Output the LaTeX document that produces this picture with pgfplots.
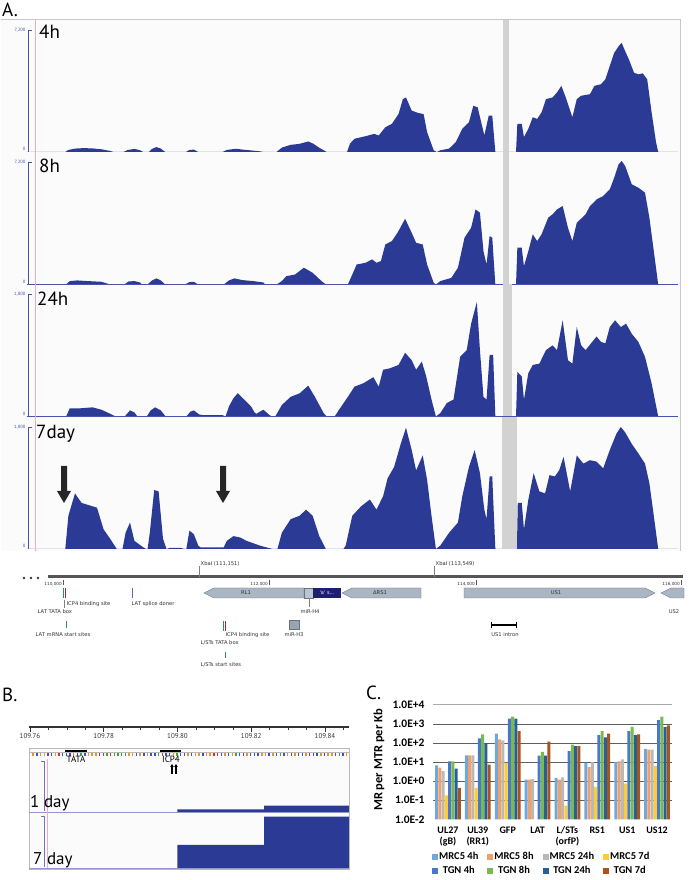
\documentclass[border=0pt]{standalone}
\usepackage{pgfplots}
\pgfplotsset{compat=1.18}
\usepackage{fontspec}
\setmainfont{PT Sans}
\newfontfamily\calib{Carlito}
\newfontfamily\dvs{DejaVu Sans}
\usetikzlibrary{arrows.meta}

\definecolor{cov}{RGB}{43,58,148}
\definecolor{trk}{RGB}{72,84,170}
\definecolor{graybar}{RGB}{210,210,210}
\definecolor{frm}{RGB}{200,200,200}
\definecolor{bgA}{RGB}{251,251,251}
\definecolor{pinkl}{RGB}{240,170,185}
\definecolor{genefill}{RGB}{170,182,196}
\definecolor{geneline}{RGB}{105,115,130}
\definecolor{navybox}{RGB}{28,32,110}
\definecolor{annot}{RGB}{50,50,50}
\definecolor{rul}{RGB}{85,85,85}
\definecolor{mkgreen}{RGB}{40,150,70}
\definecolor{mkred}{RGB}{170,40,40}
\definecolor{mkblue}{RGB}{90,110,200}
\definecolor{cMa}{RGB}{112,168,222}
\definecolor{cMb}{RGB}{244,160,100}
\definecolor{cMc}{RGB}{185,185,185}
\definecolor{cMd}{RGB}{255,205,50}
\definecolor{cTa}{RGB}{72,120,200}
\definecolor{cTb}{RGB}{120,185,80}
\definecolor{cTc}{RGB}{38,96,148}
\definecolor{cTd}{RGB}{168,84,30}
\definecolor{bA}{RGB}{60,165,60}
\definecolor{bC}{RGB}{60,80,215}
\definecolor{bG}{RGB}{230,150,40}
\definecolor{bT}{RGB}{215,50,50}
\definecolor{gridd}{RGB}{95,95,95}
\definecolor{gridl}{RGB}{170,170,170}

\pgfplotsset{
  track/.style={scale only axis, width=651pt, height=132pt, anchor=south west,
    xmin=61, xmax=1540, ymin=0, axis lines=none},
  sqleg/.style={legend image code/.code={\draw[##1,/tikz/.cd,draw=none] (0pt,-3pt) rectangle (6pt,3pt);}},
}

\begin{document}
\begin{tikzpicture}[x=1pt,y=1pt]
\useasboundingbox (0,0) rectangle (691,880);
\fill[white] (0,0) rectangle (691,880);
% backgrounds
\begin{scope}[shift={(0pt,880pt)}, y=-1pt]
\fill[bgA] (1,20) rectangle (680,551);
\draw[frm, line width=1pt] (1,20) -- (680,20) -- (680,551);
\fill[bgA] (29,748) rectangle (349,869);
\end{scope}

% ---------------- Panel A tracks ----------------
\begin{axis}[track, at={(27pt,728pt)}, ymax=7790]
\addplot[fill=cov, draw=none] coordinates {(61,0) (148,0) (155,120) (170,200) (190,230) (210,210) (230,160) (250,60) (258,0) (280,0) (290,120) (305,180) (318,100) (325,0) (338,0) (345,180) (355,290) (365,200) (375,0) (422,0) (430,120) (440,140) (450,0) (505,0) (515,120) (535,190) (555,130) (575,80) (590,40) (600,0) (628,0) (640,260) (660,420) (680,480) (700,620) (712,480) (725,250) (738,60) (742,0) (788,0) (795,500) (805,780) (830,930) (850,1070) (860,970) (875,1460) (890,1660) (905,2240) (915,3120) (922,3220) (935,2440) (950,2300) (962,2240) (970,1170) (985,100) (992,0) (1000,100) (1020,200) (1035,580) (1050,1370) (1065,1750) (1075,2730) (1085,2630) (1092,1850) (1100,980) (1110,2150) (1118,2150) (1125,0) (1172,0) (1175,1660) (1185,1660) (1190,880) (1200,1370) (1210,2050) (1220,1950) (1230,2340) (1240,3120) (1255,3220) (1265,3510) (1275,3900) (1285,3220) (1300,2050) (1310,3120) (1320,3320) (1340,3410) (1350,3900) (1365,4000) (1375,4290) (1385,5070) (1395,5850) (1405,6240) (1412,6440) (1420,5950) (1430,5360) (1440,4680) (1450,4580) (1460,4640) (1470,4290) (1480,2340) (1490,590) (1495,0) (1540,0)} \closedcycle;
\draw[trk, line width=0.9pt] (axis cs:61,0) -- (axis cs:1540,0);
\fill[graybar] (axis cs:1143,0) rectangle (axis cs:1155,7790);
\end{axis}

\begin{axis}[track, at={(27pt,595.5pt)}, ymax=7790]
\addplot[fill=cov, draw=none] coordinates {(61,0) (150,0) (158,200) (175,240) (200,200) (230,160) (250,0) (282,0) (292,180) (305,200) (318,120) (322,0) (335,0) (345,240) (355,360) (365,240) (375,0) (420,0) (430,140) (440,160) (450,0) (508,0) (520,240) (532,360) (550,260) (575,200) (598,120) (602,0) (628,0) (640,200) (650,490) (670,590) (690,990) (710,690) (730,200) (740,0) (790,0) (800,590) (810,1180) (830,1280) (845,1480) (855,1280) (865,1380) (875,2360) (890,2560) (905,3150) (920,3880) (935,3050) (945,2460) (960,2360) (970,1180) (985,100) (990,0) (1000,200) (1025,390) (1040,990) (1055,2760) (1070,3350) (1080,4430) (1090,4240) (1098,1970) (1105,1180) (1112,2860) (1118,2760) (1125,0) (1172,0) (1175,2170) (1185,2170) (1190,1080) (1200,1970) (1210,2960) (1220,2560) (1230,2960) (1245,3940) (1255,4140) (1265,4430) (1278,4630) (1290,3350) (1300,2560) (1310,3640) (1330,4140) (1340,4630) (1355,5020) (1370,5220) (1385,5610) (1395,6300) (1405,7090) (1412,7290) (1420,6990) (1435,5910) (1450,5710) (1465,5420) (1475,3940) (1485,1970) (1495,0) (1540,0)} \closedcycle;
\draw[trk, line width=0.9pt] (axis cs:61,0) -- (axis cs:1540,0);
\fill[graybar] (axis cs:1143,0) rectangle (axis cs:1155,7790);
\end{axis}

\begin{axis}[track, at={(27pt,463.5pt)}, ymax=1948]
\addplot[fill=cov, draw=none] coordinates {(61,0) (150,0) (158,120) (180,120) (210,135) (230,100) (250,40) (262,0) (283,0) (295,90) (305,60) (312,0) (333,0) (342,90) (352,135) (365,90) (376,0) (423,0) (432,70) (440,90) (452,30) (460,20) (505,20) (512,0) (520,150) (530,270) (540,345) (555,245) (570,150) (578,60) (582,40) (598,100) (612,20) (618,0) (625,0) (640,170) (660,290) (680,340) (700,455) (715,290) (735,50) (742,0) (760,0) (770,100) (790,290) (805,440) (825,490) (848,580) (860,440) (870,690) (885,710) (905,760) (920,940) (935,830) (945,690) (958,810) (968,590) (980,250) (990,0) (1000,50) (1015,200) (1030,250) (1045,880) (1060,980) (1070,1370) (1083,1690) (1090,980) (1098,290) (1105,250) (1112,910) (1120,910) (1125,0) (1172,0) (1175,660) (1185,590) (1190,250) (1200,640) (1210,760) (1225,780) (1240,980) (1255,1050) (1265,980) (1278,1420) (1290,830) (1300,780) (1310,1320) (1320,1050) (1330,980) (1345,1100) (1355,1180) (1365,1100) (1375,1080) (1385,1320) (1397,1420) (1410,1320) (1422,1370) (1435,1220) (1450,1100) (1465,880) (1480,490) (1495,0) (1540,0)} \closedcycle;
\draw[trk, line width=0.9pt] (axis cs:61,0) -- (axis cs:1540,0);
\fill[graybar] (axis cs:1143,0) rectangle (axis cs:1162,1948);
\end{axis}

\begin{axis}[track, at={(27pt,331pt)}, ymax=1948]
\addplot[fill=cov, draw=none] coordinates {(61,0) (148,0) (155,490) (170,820) (185,680) (200,650) (220,610) (235,290) (250,150) (265,0) (278,0) (285,240) (295,390) (305,120) (325,25) (332,0) (335,0) (340,240) (350,870) (360,850) (370,150) (378,0) (385,15) (410,15) (420,0) (423,0) (430,270) (440,220) (450,50) (455,25) (508,25) (515,120) (530,190) (545,170) (560,120) (590,50) (610,15) (620,0) (630,0) (640,240) (660,440) (680,490) (695,580) (710,490) (725,190) (740,0) (780,0) (785,50) (800,490) (820,630) (840,730) (855,580) (870,780) (880,1040) (895,1210) (910,1550) (922,1790) (935,1460) (945,1160) (960,1380) (970,1020) (980,490) (990,0) (1000,50) (1020,240) (1040,390) (1050,780) (1065,1210) (1078,1460) (1090,1120) (1100,580) (1105,440) (1112,1070) (1118,1070) (1125,0) (1174,0) (1176,680) (1185,680) (1190,290) (1200,730) (1212,1120) (1225,850) (1238,820) (1248,1090) (1260,1070) (1270,1160) (1280,1360) (1295,850) (1310,1380) (1325,1260) (1340,1310) (1355,1290) (1370,1190) (1385,1460) (1400,1700) (1410,1800) (1420,1720) (1435,1550) (1450,1410) (1465,1260) (1475,970) (1485,490) (1495,0) (1540,0)} \closedcycle;
\draw[trk, line width=0.9pt] (axis cs:61,0) -- (axis cs:1540,0);
\fill[graybar] (axis cs:1140,0) rectangle (axis cs:1174,1948);
\end{axis}

% ---------------- Panel C bars ----------------
\begin{axis}[at={(433pt,60.7pt)}, anchor=south west, scale only axis, width=239pt, height=114.3pt,
 ymode=log, ymin=0.01, ymax=10000, log origin y=infty,
 xmin=-0.5, xmax=7.5, ybar=0.35pt, bar width=2.9pt,
 axis x line=bottom, axis y line=left, axis line style={draw=none},
 major tick length=0pt, minor tick length=0pt, yminorticks=false,
 xtick={0,1,2,3,4,5,6,7},
 xticklabels={UL27\\(gB),UL39\\(RR1),GFP,LAT,L/STs\\(orfP),RS1,US1,US12},
 xticklabel style={align=center, anchor=north, font=\calib\bfseries\fontsize{10}{11}\selectfont, yshift=-4pt},
 ytick={0.01,0.1,1,10,100,1000,10000},
 yticklabels={1.0E-2,1.0E-1,1.0E+0,1.0E+1,1.0E+2,1.0E+3,1.0E+4},
 yticklabel style={font=\calib\bfseries\fontsize{11.5}{12}\selectfont, xshift=-5pt},
 clip=false,
 legend columns=4,
 legend style={draw=none, fill=none, at={(0,0)}, anchor=north west, xshift=-1pt, yshift=-32pt, inner sep=0pt,
   font=\calib\bfseries\fontsize{10.5}{11}\selectfont, row sep=3pt, nodes={inner sep=1pt},
   /tikz/every even column/.append style={column sep=8pt}},
]
\draw[gridl, line width=1pt] (axis cs:-0.5,10000) -- (axis cs:7.5,10000);
\pgfplotsinvokeforeach{0.1,1,10,100,1000}{\draw[gridd, line width=1pt] (axis cs:-0.5,#1) -- (axis cs:7.5,#1);}
\addplot[fill=cMa, draw=none, sqleg] coordinates {(0,6.7) (1,22.4) (2,310) (3,1.22) (4,1.5) (5,9.2) (6,10) (7,50)};
\addplot[fill=cMb, draw=none, sqleg] coordinates {(0,5.2) (1,22.4) (2,156) (3,1.22) (4,1.2) (5,5.5) (6,11) (7,45)};
\addplot[fill=cMc, draw=none, sqleg] coordinates {(0,3.4) (1,22.4) (2,138) (3,1.3) (4,1.6) (5,10) (6,13.8) (7,45)};
\addplot[fill=cMd, draw=none, sqleg] coordinates {(0,0.18) (1,0.45) (2,9.2) (4,0.052) (5,0.5) (6,0.75) (7,6.2)};
\addplot[fill=cTa, draw=none, sqleg] coordinates {(0,10.9) (1,177) (2,1900) (3,22) (4,38) (5,265) (6,427) (7,1620)};
\addplot[fill=cTb, draw=none, sqleg] coordinates {(0,10.9) (1,285) (2,2450) (3,35) (4,82) (5,427) (6,720) (7,2450)};
\addplot[fill=cTc, draw=none, sqleg] coordinates {(0,4.6) (1,96) (2,1900) (3,22) (4,69) (5,200) (6,265) (7,700)};
\addplot[fill=cTd, draw=none, sqleg] coordinates {(0,0.45) (1,7.5) (2,427) (3,118) (4,69) (5,310) (6,283) (7,850)};
\legend{MRC5 4h,MRC5 8h,MRC5 24h,MRC5 7d,TGN 4h,TGN 8h,TGN 24h,TGN 7d}
\end{axis}

% ---------------- Panel B ----------------
\begin{axis}[at={(29pt,153pt)}, anchor=south west, scale only axis, width=320pt, height=1pt,
 xmin=59.73, xmax=146.51, ymin=0, ymax=1, ytick=\empty,
 axis x line=bottom, axis y line=none, axis line style={-, line width=1.4pt, black!80},
 xtick={60,80,100,120,140}, xticklabels={109.76,109.78,109.80,109.82,109.84},
 minor xtick={65,70,75,85,90,95,105,110,115,125,130,135,145},
 xtick align=outside, major tick length=5pt, minor tick length=3pt,
 every tick/.style={black!80, line width=0.6pt},
 xticklabel style={font=\fontsize{7}{8}\selectfont, text=black!80, inner sep=1pt}]
\end{axis}

\begin{axis}[at={(29pt,68pt)}, anchor=south west, scale only axis, width=320pt, height=53pt,
 xmin=59.73, xmax=146.51, ymin=0, ymax=53, axis lines=none]
\addplot[fill=cov, draw=none] coordinates {(100,0) (100,2.7) (123.5,2.7) (123.5,6.3) (146.51,6.3) (146.51,0)} \closedcycle;
\end{axis}

\begin{axis}[at={(29pt,11pt)}, anchor=south west, scale only axis, width=320pt, height=55pt,
 xmin=59.73, xmax=146.51, ymin=0, ymax=55, axis lines=none]
\addplot[fill=cov, draw=none] coordinates {(100,0) (100,24) (123.5,24) (123.5,52.3) (146.51,52.3) (146.51,0)} \closedcycle;
\draw[cov, line width=1.2pt] (axis cs:64.6,0.6) -- (axis cs:100,0.6);
\end{axis}

% ---------------- decorations ----------------
\begin{scope}[shift={(0pt,880pt)}, y=-1pt]
% panel labels
\node[anchor=north west, inner sep=0, font=\fontsize{19}{20}\selectfont] at (2,3) {A.};
\node[anchor=north west, inner sep=0, font=\fontsize{19}{20}\selectfont] at (2,688) {B.};
\node[anchor=north west, inner sep=0, font=\fontsize{19}{20}\selectfont] at (366,686) {C.};
% pink line
\draw[pinkl, line width=0.6pt] (35,20) -- (35,551);
% track y axes
\foreach \b/\t/\m in {152/30/{7,200}, 284.5/162.5/{7,200}, 416.5/294.5/{1,800}, 549/427/{1,800}} {
  \draw[trk, line width=0.7pt] (28.5,\b) -- (28.5,\t) -- (31.5,\t);
  \node[anchor=east, font=\fontsize{4.6}{5}\selectfont, text=trk, inner sep=0.5pt] at (26,\t) {\m};
  \node[anchor=east, font=\fontsize{4.6}{5}\selectfont, text=trk, inner sep=0.5pt] at (26,\b-3) {0};
}
% track labels
\node[anchor=north west, inner sep=0, font=\fontsize{19}{20}\selectfont] at (39,25) {4h};
\node[anchor=north west, inner sep=0, font=\fontsize{19}{20}\selectfont] at (39,158.5) {8h};
\node[anchor=north west, inner sep=0, font=\fontsize{19}{20}\selectfont] at (37,291.5) {24h};
\node[anchor=north west, inner sep=0, font=\fontsize{19}{20}\selectfont] at (36,425.5) {7day};
% arrows in 7day
\foreach \ax in {64,223} {
  \fill[black!85] (\ax-3,466) -- (\ax+3,466) -- (\ax+3,491) -- (\ax+7,491) -- (\ax,503) -- (\ax-7,491) -- (\ax-3,491) -- cycle;
}
% ---- annotation panel ----
\foreach \x in {24,31,38} \fill[black!80] (\x,578) circle (1.3);
\draw[rul, line width=3pt] (48,577) -- (683,577);
\foreach \x/\l in {63/{110,000}, 269/{112,000}, 476/{114,000}, 681/{116,000}} {
  \draw[rul, line width=0.4pt] (\x,580) -- (\x,585);
  \node[anchor=east, inner sep=0.5pt, font=\dvs\fontsize{4.2}{5}\selectfont, text=annot] at (\x-0.5,584) {\l};
}
\draw[gray, line width=0.4pt] (199,566) -- (199,577);
\node[anchor=west, inner sep=0.5pt, font=\dvs\fontsize{5.2}{6}\selectfont, text=annot] at (200,564) {XbaI (111,151)};
\draw[gray, line width=0.4pt] (434,566) -- (434,577);
\node[anchor=west, inner sep=0.5pt, font=\dvs\fontsize{5.2}{6}\selectfont, text=annot] at (435,564) {XbaI (113,549)};
% markers row 1
\fill[mkgreen] (62.5,588) rectangle (63.5,598);
\fill[mkred] (64.8,588) rectangle (66.2,598);
\draw[gray, line width=0.3pt] (64.5,600) -- (64.5,608);
\node[anchor=west, inner sep=0.5pt, font=\dvs\fontsize{5.2}{6}\selectfont, text=annot] at (66,604) {ICP4 binding site};
\node[anchor=west, inner sep=0.5pt, font=\dvs\fontsize{5.2}{6}\selectfont, text=annot] at (37,612) {LAT TATA box};
\fill[mkblue] (131.5,588) rectangle (132.7,598);
\node[anchor=west, inner sep=0.5pt, font=\dvs\fontsize{5.2}{6}\selectfont, text=annot] at (131,604) {LAT splice doner};
\fill[mkgreen] (65.6,621) rectangle (66.4,628);
\node[anchor=west, inner sep=0.5pt, font=\dvs\fontsize{5.2}{6}\selectfont, text=annot] at (35,635) {LAT mRNA start sites};
% genes
\filldraw[fill=genefill, draw=geneline, line width=0.4pt] (214,588) -- (304,588) -- (304,598) -- (214,598) -- (204,593) -- cycle;
\node[font=\dvs\fontsize{5.2}{6}\selectfont, text=annot] at (246,593) {RL1};
\filldraw[fill=genefill!80, draw=geneline, line width=0.4pt] (304,588) rectangle (313,598);
\fill[navybox] (313,588) rectangle (341,598);
\node[font=\dvs\fontsize{5}{6}\selectfont, text=white] at (327,593) {'a' s...};
\filldraw[fill=genefill, draw=geneline, line width=0.4pt] (352,588) -- (421,588) -- (421,598) -- (352,598) -- (342,593) -- cycle;
\node[font=\dvs\fontsize{5.2}{6}\selectfont, text=annot] at (380,593) {ΔRS1};
\filldraw[fill=genefill, draw=geneline, line width=0.4pt] (464,588) -- (645,588) -- (655,593) -- (645,598) -- (464,598) -- cycle;
\node[font=\dvs\fontsize{5.2}{6}\selectfont, text=annot] at (556,593) {US1};
\filldraw[fill=genefill, draw=geneline, line width=0.4pt] (671,588) -- (684,588) -- (684,598) -- (671,598) -- (661,593) -- cycle;
\node[font=\dvs\fontsize{5.2}{6}\selectfont, text=annot] at (674,612) {US2};
\draw[gray, line width=0.3pt] (309,598) -- (309,607);
\node[font=\dvs\fontsize{5.2}{6}\selectfont, text=annot] at (310,612) {miR-H4};
% markers row 2
\fill[mkgreen] (222.5,621) rectangle (223.5,631);
\fill[mkred] (224.8,621) rectangle (226.2,631);
\node[anchor=west, inner sep=0.5pt, font=\dvs\fontsize{5.2}{6}\selectfont, text=annot] at (225,635) {ICP4 binding site};
\node[anchor=west, inner sep=0.5pt, font=\dvs\fontsize{5.2}{6}\selectfont, text=annot] at (200,643) {L/STs TATA box};
\fill[mkgreen] (224.6,652) rectangle (225.4,658);
\node[anchor=west, inner sep=0.5pt, font=\dvs\fontsize{5.2}{6}\selectfont, text=annot] at (200,665) {L/STs start sites};
\filldraw[fill=genefill!90!black, draw=geneline, line width=0.4pt] (289,620) rectangle (299,629);
\node[font=\dvs\fontsize{5.2}{6}\selectfont, text=annot] at (294,635) {miR-H3};
\draw[black, line width=1.4pt] (491,625) -- (516,625);
\draw[black, line width=0.6pt] (491,622) -- (491,628) (516,622) -- (516,628);
\node[font=\dvs\fontsize{5.2}{6}\selectfont, text=annot] at (505,635) {US1 intron};
% ---- panel B decorations ----
\draw[gray!55, line width=0.6pt] (29,748) rectangle (349,869);
\draw[gray!55, line width=0.6pt] (29,752) -- (349,752);
\foreach \bb [count=\i] in {G,C,G,G,C,C,G,T,C,C,C,G,C,A,C,G,G,G,C,T,A,T,A,A,A,A,G,G,C,G,C,G,C,C,A,T,C,C,G,A,C,C,G,C,G,G,C,G,G,T,T,C,G,C,G,A,C,C,G,C,C,C,G,G,C,G,C,A,C,G,C,G,C,C,G,T,C,C,G,C,G,G,C,A,C,G} {
  \fill[b\bb] ({28.8+\i*3.6875},753.3) rectangle +(1.4,3);
}
\draw[black, line width=1.1pt] (65,751) -- (87,751);
\draw[black, line width=1.1pt] (160,751) -- (181,751);
\node[font=\fontsize{9}{10}\selectfont, inner sep=0] at (76,759.5) {TATA};
\node[font=\fontsize{9}{10}\selectfont, inner sep=0] at (171,759.5) {ICP4};
\draw[-{Triangle[length=3pt,width=3.5pt]}, line width=1.2pt] (172,774) -- (172,764);
\draw[-{Triangle[length=3pt,width=3.5pt]}, line width=1.2pt] (176,774) -- (176,764);
\draw[trk!60, line width=0.8pt] (29,812.5) -- (349,812.5);
\draw[trk!60, line width=0.5pt] (29,868.5) -- (349,868.5);
\draw[trk!80, line width=0.5pt] (44,761) -- (44,811) (41,761) -- (44,761);
\draw[trk!80, line width=0.5pt] (44,816) -- (44,867) (41,816) -- (44,816);
\draw[pinkl, line width=0.5pt] (47,759) -- (47,868);
\node[anchor=base west, inner sep=0, font=\fontsize{17}{18}\selectfont] at (30,807.5) {1 day};
\node[anchor=base west, inner sep=0, font=\fontsize{17}{18}\selectfont] at (33,865) {7 day};
% ---- panel C y label ----
\node[rotate=90, font=\calib\bfseries\fontsize{12.5}{13}\selectfont] at (379,760) {MR per MTR per Kb};
\end{scope}
\end{tikzpicture}
\end{document}
